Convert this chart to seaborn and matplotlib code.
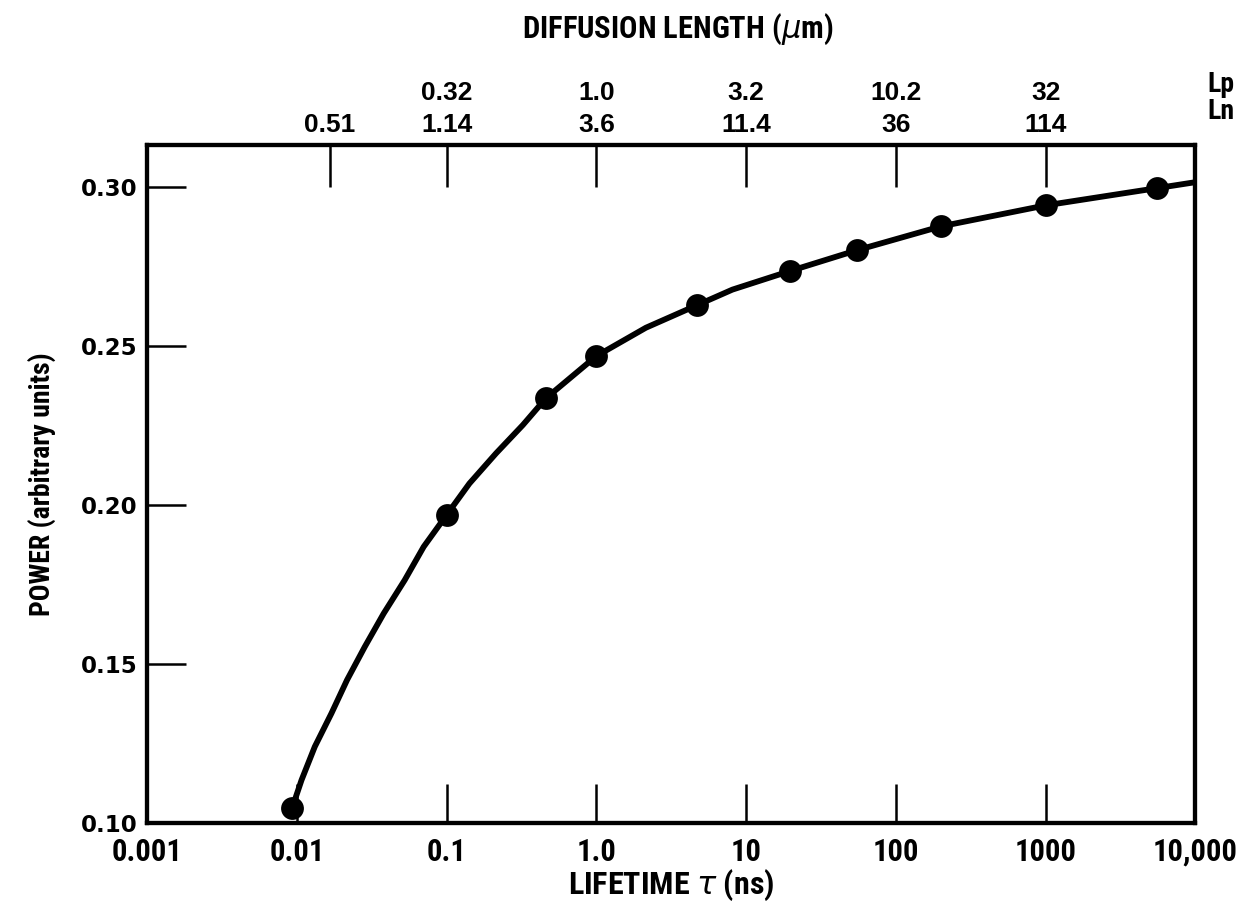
import matplotlib
matplotlib.use("Agg")
import matplotlib.pyplot as plt
import seaborn as sns
import pandas as pd

# Computed points: carrier lifetime (ns) vs. output power
tau_points = [0.0093, 0.1, 0.46, 1.0, 4.7, 19.5, 55, 200, 1000, 5500]
power_points = [0.1047, 0.1969, 0.2336, 0.2469, 0.2629, 0.2736, 0.2802, 0.2877, 0.2943, 0.2997]

# Smooth curve drawn through the points, carried on to the right edge
tau_curve = [0.0093, 0.01075, 0.01318, 0.01703, 0.02165, 0.0284, 0.038, 0.0525, 0.0703,
             0.1, 0.142, 0.214, 0.323, 0.46, 1.0, 2.14, 4.7, 8.1, 19.5, 55, 200, 1000,
             5500, 10000]
power_curve = [0.1047, 0.1135, 0.1240, 0.1345, 0.1450, 0.1554, 0.1659, 0.1764, 0.1869,
               0.1969, 0.2068, 0.2163, 0.2252, 0.2336, 0.2469, 0.2558, 0.2629, 0.2678,
               0.2736, 0.2802, 0.2877, 0.2943, 0.2997, 0.3016]

# Bottom axis
x_ticks = [0.001, 0.01, 0.1, 1.0, 10, 100, 1000, 10000]
x_labels = ["0.001", "0.01", "0.1", "1.0", "10", "100", "1000", "10,000"]
y_ticks = [0.10, 0.15, 0.20, 0.25, 0.30]
y_labels = ["0.10", "0.15", "0.20", "0.25", "0.30"]

# Top axis: diffusion lengths for holes (Lp) and electrons (Ln)
top_ticks = [0.0166, 0.1, 1.0, 10, 100, 1000]
lp_labels = ["", "0.32", "1.0", "3.2", "10.2", "32"]
ln_labels = ["0.51", "1.14", "3.6", "11.4", "36", "114"]

sns.set_theme(style="ticks")
narrow = ["Roboto Condensed", "Liberation Sans Narrow", "DejaVu Sans Condensed",
          "Liberation Sans", "DejaVu Sans"]
wide_digits = ["Liberation Sans", "DejaVu Sans"]
plt.rcParams["font.family"] = narrow
plt.rcParams["mathtext.fontset"] = "dejavusans"
plt.rcParams["text.color"] = "black"
plt.rcParams["axes.labelcolor"] = "black"
plt.rcParams["xtick.color"] = "black"
plt.rcParams["ytick.color"] = "black"

curve_df = pd.DataFrame({"tau": tau_curve, "power": power_curve})
pts_df = pd.DataFrame({"tau": tau_points, "power": power_points})

fig = plt.figure(figsize=(12.57, 9.13), dpi=100)
ax = fig.add_axes([0.117, 0.0986, 0.834, 0.7426])

sns.lineplot(data=curve_df, x="tau", y="power", ax=ax, color="black",
             linewidth=4.2, sort=False, estimator=None)
sns.scatterplot(data=pts_df, x="tau", y="power", ax=ax, color="black",
                s=270, edgecolor="black", linewidth=0, zorder=5)

ax.set_xscale("log")
ax.set_xlim(0.001, 10000)
ax.set_ylim(0.10, 0.3133)
ax.set_xticks(x_ticks)
ax.set_xticklabels(x_labels, fontsize=22, fontweight="bold")
ax.minorticks_off()
ax.set_yticks(y_ticks)
ax.set_yticklabels(y_labels, fontsize=16.5, fontweight="bold",
                   family=["DejaVu Sans"])

ax.tick_params(axis="x", direction="in", length=28, width=1.8, pad=10, bottom=True, top=False)
ax.tick_params(axis="y", direction="in", length=28, width=1.8, pad=7, left=True, right=False)
for side in ["left", "right", "top", "bottom"]:
    ax.spines[side].set_visible(True)
    ax.spines[side].set_linewidth(3.0)
    ax.spines[side].set_color("black")

ax.set_xlabel(r"LIFETIME $\tau$ (ns)", fontsize=23, fontweight="bold", labelpad=1)
ax.set_ylabel("POWER (arbitrary units)", fontsize=20, fontweight="bold", labelpad=18)

# Secondary scale along the top
top = ax.twiny()
top.set_xscale("log")
top.set_xlim(ax.get_xlim())
top.set_xticks(top_ticks)
top.set_xticklabels([f"{a}\n{b}" for a, b in zip(lp_labels, ln_labels)],
                    fontsize=19, fontweight="bold", linespacing=1.38,
                    family=wide_digits)
top.minorticks_off()
top.tick_params(axis="x", direction="in", length=30, width=1.8, pad=6)
for side in ["left", "right", "top", "bottom"]:
    top.spines[side].set_linewidth(3.0)
    top.spines[side].set_color("black")

ax.text(1.024, 1.078, "Lp", transform=ax.transAxes, ha="center", va="baseline",
        fontsize=20, fontweight="bold")
ax.text(1.024, 1.038, "Ln", transform=ax.transAxes, ha="center", va="baseline",
        fontsize=20, fontweight="bold")
ax.text(0.506, 1.158, r"DIFFUSION LENGTH ($\mu$m)", transform=ax.transAxes,
        ha="center", va="baseline", fontsize=22, fontweight="bold")

fig.savefig("out.png", dpi=100, facecolor="white")
